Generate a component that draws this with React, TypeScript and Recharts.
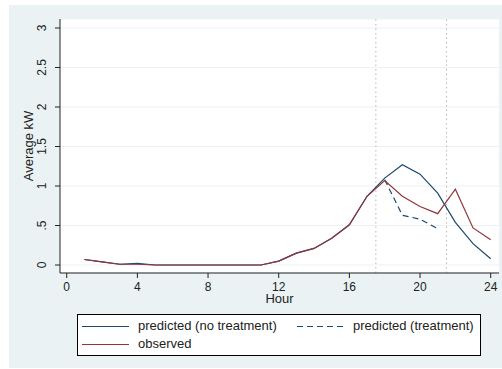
import React from 'react';
import { LineChart, Line, XAxis, YAxis, CartesianGrid, ReferenceLine, Label } from 'recharts';

const hours = [1, 2, 3, 4, 5, 6, 7, 8, 9, 10, 11, 12, 13, 14, 15, 16, 17, 18, 19, 20, 21, 22, 23, 24];
const predictedNoTreatment = [0.07, 0.04, 0.01, 0.02, 0, 0, 0, 0, 0, 0, 0, 0.05, 0.15, 0.21, 0.34, 0.51, 0.87, 1.1, 1.27, 1.15, 0.91, 0.54, 0.27, 0.08];
const predictedTreatment: (number | null)[] = [null, null, null, null, null, null, null, null, null, null, null, null, null, null, null, null, null, 1.08, 0.63, 0.58, 0.46, null, null, null];
const observed = [0.07, 0.04, 0.01, 0.01, 0, 0, 0, 0, 0, 0, 0, 0.05, 0.15, 0.21, 0.34, 0.51, 0.87, 1.07, 0.87, 0.74, 0.65, 0.96, 0.47, 0.32];
const xTicks = [0, 4, 8, 12, 16, 20, 24];
const yTicks = [0, 0.5, 1, 1.5, 2, 2.5, 3];
const yTickLabels = ['0', '.5', '1', '1.5', '2', '2.5', '3'];
const treatmentWindow = [17.5, 21.5];
const legendLabels = ['predicted (no treatment)', 'predicted (treatment)', 'observed'];

const NAVY = '#1a476f';
const MAROON = '#90353b';
const BG = '#eaf2f3';
const FONT = '"Liberation Sans", Arial, sans-serif';

const data = hours.map((h, i) => ({
  hour: h,
  noTreat: predictedNoTreatment[i],
  treat: predictedTreatment[i],
  observed: observed[i],
}));

const YTick = (props: any) => {
  const { x, y, payload } = props;
  const idx = yTicks.indexOf(payload.value);
  const label = idx >= 0 ? yTickLabels[idx] : String(payload.value);
  const tx = x - 7;
  return (
    <text x={tx} y={y} transform={`rotate(-90 ${tx} ${y})`} textAnchor="middle" fontSize={12} fontFamily={FONT} fill="#222">
      {label}
    </text>
  );
};

export default function App() {
  return (
    <div style={{ position: 'absolute', left: 0, top: 0, width: 502, height: 369, background: '#fff', overflow: 'hidden' }}>
      <div style={{ position: 'absolute', left: 9, top: 5, width: 493, height: 363, background: BG }} />
      <div style={{ position: 'absolute', left: 0, top: 0 }}>
        <LineChart width={502} height={369} data={data} margin={{ top: 19, right: 3, bottom: 76, left: 0 }}>
          <CartesianGrid vertical={false} horizontal={true} stroke={BG} fill="#fff" strokeWidth={1.2} />
          <XAxis
            dataKey="hour"
            type="number"
            domain={[-0.38, 24.47]}
            ticks={xTicks}
            allowDataOverflow
            height={20}
            stroke="#222"
            tickSize={5}
            tickMargin={4}
            tick={{ fontSize: 12, fontFamily: FONT, fill: '#222' }}
            interval={0}
          >
            <Label value="Hour" position="bottom" offset={1} style={{ fontSize: 13, fontFamily: FONT, fill: '#222' }} />
          </XAxis>
          <YAxis
            type="number"
            domain={[-0.101, 3.114]}
            ticks={yTicks}
            allowDataOverflow
            width={60}
            stroke="#222"
            tickSize={5}
            tick={<YTick />}
            interval={0}
          >
            <Label
              content={() => (
                <text x={33} y={146} transform="rotate(-90 33 146)" textAnchor="middle" fontSize={13} fontFamily={FONT} fill="#222">
                  Average kW
                </text>
              )}
            />
          </YAxis>
          {treatmentWindow.map((v) => (
            <ReferenceLine key={v} x={v} stroke="#b8b8b8" strokeDasharray="1.5 3" />
          ))}
          <Line type="linear" dataKey="noTreat" stroke={NAVY} strokeWidth={1.2} dot={false} isAnimationActive={false} />
          <Line type="linear" dataKey="treat" stroke={NAVY} strokeWidth={1.2} strokeDasharray="6 4" dot={false} connectNulls={false} isAnimationActive={false} />
          <Line type="linear" dataKey="observed" stroke={MAROON} strokeWidth={1.2} dot={false} isAnimationActive={false} />
        </LineChart>
      </div>
      <svg style={{ position: 'absolute', left: 77, top: 314 }} width={404} height={42}>
        <rect x={0.5} y={0.5} width={403} height={41} fill="#fff" stroke="#000" strokeWidth={1} />
        <line x1={5} x2={52} y1={12.5} y2={12.5} stroke={NAVY} strokeWidth={1.2} />
        <text x={61} y={16} fontSize={13} fontFamily={FONT} fill="#222">{legendLabels[0]}</text>
        <line x1={220} x2={266} y1={12.5} y2={12.5} stroke={NAVY} strokeWidth={1.2} strokeDasharray="6 4" />
        <text x={276} y={16} fontSize={13} fontFamily={FONT} fill="#222">{legendLabels[1]}</text>
        <line x1={5} x2={52} y1={30.5} y2={30.5} stroke={MAROON} strokeWidth={1.2} />
        <text x={61} y={34} fontSize={13} fontFamily={FONT} fill="#222">{legendLabels[2]}</text>
      </svg>
    </div>
  );
}
